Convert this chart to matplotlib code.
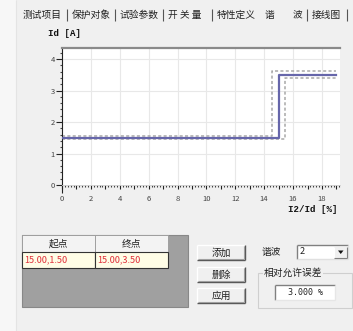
import matplotlib
matplotlib.use("Agg")
import matplotlib.pyplot as plt
from matplotlib.patches import Rectangle, Polygon
from matplotlib.ticker import MultipleLocator, FuncFormatter

plt.rcParams['font.family'] = ['Noto Sans CJK SC', 'DejaVu Sans']

# ---------------- data ----------------
tabs = ["测试项目", "保护对象", "试验参数", "开 关 量", "特性定义", "谐", "波", "接线图"]
char_x = [0, 14.55, 14.55, 19.0]
char_y = [1.5, 1.5, 3.5, 3.5]
line_x = [0, 15.0, 15.0, 19.0]
line_y = [1.5, 1.5, 3.5, 3.5]
upper_x = [0, 14.55, 14.55, 19.0]
upper_y = [1.545, 1.545, 3.605, 3.605]
lower_x = [0, 15.45, 15.45, 19.0]
lower_y = [1.455, 1.455, 3.395, 3.395]
table_cols = ["起点", "终点"]
table_rows = [["15.00,1.50", "15.00,3.50"]]
buttons = ["添加", "删除", "应用"]
harmonic = "2"
tolerance_text = "3.000 %"
x_label = "I2/Id [%]"
y_label = "Id [A]"

W, H = 353, 331
fig = plt.figure(figsize=(W / 100, H / 100), dpi=100)
fig.patch.set_facecolor('#f0f0f0')

# overlay axes in pixel coordinates
ov = fig.add_axes([0, 0, 1, 1], zorder=0)
ov.set_xlim(0, W)
ov.set_ylim(H, 0)
ov.axis('off')

def rect(x0, y0, x1, y1, fc, ec='none', lw=0.8, z=1):
    ov.add_patch(Rectangle((x0, y0), x1 - x0, y1 - y0, facecolor=fc,
                           edgecolor=ec, linewidth=lw, zorder=z))

def line(xs, ys, c, lw=0.8, z=3):
    ov.plot(xs, ys, color=c, lw=lw, zorder=z, solid_capstyle='butt')

# left strip
rect(0, 0, 16, H, '#f7f7f7')
line([16, 16], [0, H], '#e4e4e4', 0.8)

# tabs
tab_pos = [23, 72, 120, 168, 217, 265, 293, 312]
for t, x in zip(tabs, tab_pos):
    ov.text(x, 15, t, fontsize=7.0, ha='left', va='center', color='#222222')
for x in [67, 115, 163, 212, 307, 347]:
    line([x, x], [9, 21], '#555555', 0.8)

# axis labels
ov.text(48, 33, y_label, fontsize=6.6, fontweight='bold', family='Liberation Mono',
        ha='left', va='center', color='#111111')
ov.text(337, 209, x_label, fontsize=6.6, fontweight='bold', family='Liberation Mono',
        ha='right', va='center', color='#111111')
# extension of y spine below zero
line([62, 62], [185, 193], '#222222', 0.8)

# ---------------- chart ----------------
ax = fig.add_axes([62 / W, (H - 185) / H, (340 - 62) / W, (185 - 48) / H], zorder=2)
ax.set_facecolor('white')
ax.set_xlim(0, 19.25)
ax.set_ylim(0, 4.35)
for v in range(2, 19, 2):
    ax.axvline(v, color='#e8e8e8', lw=0.8, zorder=0)
for v in range(1, 5):
    ax.axhline(v, color='#e8e8e8', lw=0.8, zorder=0)

ax.plot(upper_x, upper_y, color='#a8a8a8', lw=1.1, ls=(0, (2, 1.5)), zorder=2)
ax.plot(lower_x, lower_y, color='#a8a8a8', lw=1.1, ls=(0, (2, 1.5)), zorder=2)
ax.plot(line_x, line_y, color='#6666aa', lw=1.6, zorder=3)

ax.spines['right'].set_visible(False)
ax.spines['top'].set_color('#8a8a8a')
ax.spines['top'].set_linewidth(1.6)
ax.spines['left'].set_color('#222222')
ax.spines['left'].set_linewidth(0.8)
ax.spines['bottom'].set_color('#cfcfcf')
ax.spines['bottom'].set_linewidth(0.6)

ax.xaxis.set_major_locator(MultipleLocator(1))
ax.xaxis.set_minor_locator(MultipleLocator(0.2))
ax.xaxis.set_major_formatter(FuncFormatter(lambda v, p: ('%d' % v) if int(round(v)) % 2 == 0 else ''))
ax.yaxis.set_major_locator(MultipleLocator(1))
ax.yaxis.set_minor_locator(MultipleLocator(0.2))
ax.tick_params(axis='x', which='major', length=3, width=0.8, color='#222222',
               labelsize=5.5, labelcolor='#444444', pad=4)
ax.tick_params(axis='x', which='minor', length=1.2, width=0.8, color='#444444')
ax.tick_params(axis='y', which='major', length=4, width=0.8, color='#222222',
               labelsize=5.5, labelcolor='#444444', pad=1)
ax.tick_params(axis='y', which='minor', length=1.5, width=0.8, color='#444444')

# ---------------- table ----------------
rect(22, 235, 188, 307, '#a0a0a0', '#888888', 0.8)
col_x = [22, 95, 168]
for i, c in enumerate(table_cols):
    rect(col_x[i], 235, col_x[i + 1], 252, '#f3f3f3', '#9a9a9a', 0.6, z=2)
    ov.text((col_x[i] + col_x[i + 1]) / 2, 243.5, c, fontsize=7, ha='center', va='center',
            color='#222222', zorder=4)
for r, row in enumerate(table_rows):
    y0 = 252 + r * 16
    for i, v in enumerate(row):
        rect(col_x[i], y0, col_x[i + 1], y0 + 16, '#fffde6', '#333333', 0.8, z=2)
        ov.text(col_x[i] + 2, y0 + 8, v, fontsize=6.6, ha='left', va='center',
                color='#e0303a', zorder=4)

# ---------------- buttons ----------------
def button(x0, y0, x1, y1, label):
    rect(x0, y0, x1, y1, '#f0f0f0', 'none', z=2)
    line([x0, x1], [y0, y0], '#ffffff', 1.0)
    line([x0, x0], [y0, y1], '#ffffff', 1.0)
    line([x0, x1], [y1, y1], '#555555', 1.0)
    line([x1, x1], [y0, y1], '#555555', 1.0)
    line([x0 + 1, x1 - 1], [y1 - 1, y1 - 1], '#a0a0a0', 0.8)
    line([x1 - 1, x1 - 1], [y0 + 1, y1 - 1], '#a0a0a0', 0.8)
    ov.text((x0 + x1) / 2, (y0 + y1) / 2 + 0.5, label, fontsize=7, ha='center',
            va='center', color='#222222', zorder=4)

for lab, y0 in zip(buttons, [245, 267, 288]):
    button(197, y0, 245, y0 + 15, lab)

# harmonic combo
ov.text(262, 252, "谐波", fontsize=7, ha='left', va='center', color='#222222')
rect(297, 245, 348, 259, 'white', 'none', z=2)
line([297, 348], [245, 245], '#808080', 1.0)
line([297, 297], [245, 259], '#808080', 1.0)
line([297, 348], [259, 259], '#e0e0e0', 1.0)
line([348, 348], [245, 259], '#e0e0e0', 1.0)
ov.text(300, 252, harmonic, fontsize=6.5, ha='left', va='center', color='#222222', zorder=4)
rect(334, 246.5, 347, 258, '#f0f0f0', 'none', z=3)
line([334, 334], [246.5, 258], '#ffffff', 0.8, z=4)
line([334, 347], [258, 258], '#808080', 0.8, z=4)
line([347, 347], [246.5, 258], '#808080', 0.8, z=4)
ov.add_patch(Polygon([[338, 250.5], [343.5, 250.5], [340.75, 254]], closed=True,
                     facecolor='#111111', edgecolor='none', zorder=5))

# group box
rect(258, 273, 352, 308, 'none', '#cfcfcf', 0.8, z=2)
ov.text(264, 273, "相对允许误差", fontsize=7, ha='left', va='center', color='#222222',
        zorder=4, bbox=dict(facecolor='#f0f0f0', edgecolor='none', pad=0.5))
rect(275, 285, 335, 300, 'white', 'none', z=2)
line([275, 335], [285, 285], '#808080', 1.0)
line([275, 275], [285, 300], '#808080', 1.0)
line([275, 335], [300, 300], '#e6e6e6', 1.0)
line([335, 335], [285, 300], '#e6e6e6', 1.0)
ov.text(305, 292.5, tolerance_text, fontsize=6.0, family='DejaVu Sans Mono', ha='center',
        va='center', color='#222222', zorder=4)

fig.savefig('out.png', dpi=100, facecolor=fig.get_facecolor())
